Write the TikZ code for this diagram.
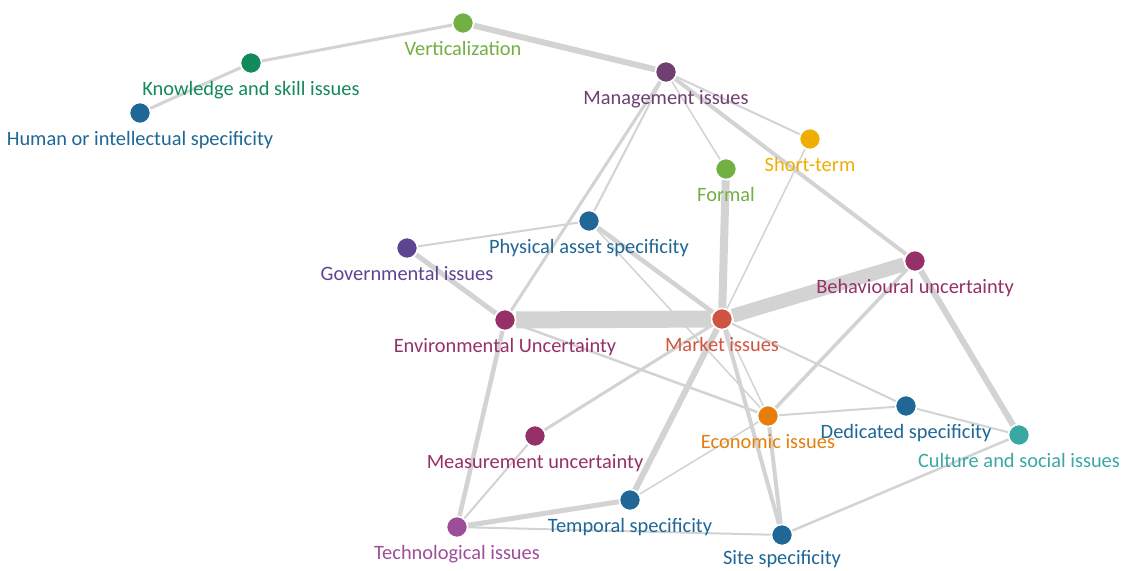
\documentclass[tikz,border=0pt]{standalone}
\usepackage{fontspec}
\setmainfont{Carlito}
\usepackage{tikz}
\usetikzlibrary{positioning, backgrounds}
\usepackage{xcolor}
\definecolor{cLime}{HTML}{72B043}
\definecolor{cGreen}{HTML}{138A5A}
\definecolor{cBlue}{HTML}{1F6796}
\definecolor{cPlum}{HTML}{6F3F72}
\definecolor{cGold}{HTML}{F0AF00}
\definecolor{cViolet}{HTML}{5D4591}
\definecolor{cBerry}{HTML}{963068}
\definecolor{cRed}{HTML}{CF5540}
\definecolor{cOrange}{HTML}{E57F0B}
\definecolor{cTeal}{HTML}{3AA8A2}
\definecolor{cOrchid}{HTML}{9C4F98}
\definecolor{linkgray}{HTML}{D3D3D3}
\tikzstyle{dot} = [circle, draw=white, line width=1.5pt, minimum size=21pt, inner sep=0pt]
\tikzstyle{lbl} = [font=\fontsize{20.4}{20.4}\selectfont, inner sep=0pt, text height=14pt, text depth=4pt]
\tikzset{edge/.style={draw=linkgray, line width=#1}}

\begin{document}
\begin{tikzpicture}[x=1pt, y=-1pt, node distance=7pt]
    \useasboundingbox (0,0) rectangle (1126,570);

    % Top branch
    \node (vert) [dot, fill=cLime] at (463,23) {};
    \node (vertL) [lbl, text=cLime, below=of vert] {Verticalization};
    \node (know) [dot, fill=cGreen] at (251,63) {};
    \node (knowL) [lbl, text=cGreen, below=of know] {Knowledge and skill issues};
    \node (human) [dot, fill=cBlue] at (140,113) {};
    \node (humanL) [lbl, text=cBlue, below=of human] {Human or intellectual specificity};
    \node (mgmt) [dot, fill=cPlum] at (666,72) {};
    \node (mgmtL) [lbl, text=cPlum, below=of mgmt] {Management issues};
    \node (short) [dot, fill=cGold] at (810,139) {};
    \node (shortL) [lbl, text=cGold, below=of short] {Short-term};
    \node (formal) [dot, fill=cLime] at (726,169) {};
    \node (formalL) [lbl, text=cLime, below=of formal] {Formal};

    % Middle
    \node (phys) [dot, fill=cBlue] at (589,221) {};
    \node (physL) [lbl, text=cBlue, below=of phys] {Physical asset specificity};
    \node (gov) [dot, fill=cViolet] at (407,248) {};
    \node (govL) [lbl, text=cViolet, below=of gov] {Governmental issues};
    \node (behav) [dot, fill=cBerry] at (915,261) {};
    \node (behavL) [lbl, text=cBerry, below=of behav] {Behavioural uncertainty};
    \node (env) [dot, fill=cBerry] at (505,320) {};
    \node (envL) [lbl, text=cBerry, below=of env] {Environmental Uncertainty};
    \node (market) [dot, fill=cRed] at (722,319) {};
    \node (marketL) [lbl, text=cRed, below=of market] {Market issues};

    % Bottom
    \node (econ) [dot, fill=cOrange] at (768,416) {};
    \node (econL) [lbl, text=cOrange, below=of econ] {Economic issues};
    \node (dedic) [dot, fill=cBlue] at (906,406) {};
    \node (dedicL) [lbl, text=cBlue, below=of dedic] {Dedicated specificity};
    \node (culture) [dot, fill=cTeal] at (1019,435) {};
    \node (cultureL) [lbl, text=cTeal, below=of culture] {Culture and social issues};
    \node (meas) [dot, fill=cBerry] at (535,436) {};
    \node (measL) [lbl, text=cBerry, below=of meas] {Measurement uncertainty};
    \node (temporal) [dot, fill=cBlue] at (630,500) {};
    \node (temporalL) [lbl, text=cBlue, below=of temporal] {Temporal specificity};
    \node (tech) [dot, fill=cOrchid] at (457,527) {};
    \node (techL) [lbl, text=cOrchid, below=of tech] {Technological issues};
    \node (site) [dot, fill=cBlue] at (782,535) {};
    \node (siteL) [lbl, text=cBlue, below=4.5pt of site] {Site specificity};

    % Links
    \begin{scope}[on background layer]
        \fill[white] (0,0) rectangle (1126,570);
        \draw [edge=3pt] (human) -- (know);
        \draw [edge=3pt] (know) -- (vert);
        \draw [edge=6pt] (vert) -- (mgmt);
        \draw [edge=2pt] (mgmt) -- (short);
        \draw [edge=1.5pt] (mgmt) -- (formal);
        \draw [edge=4pt] (mgmt) -- (behav);
        \draw [edge=3pt] (mgmt) -- (env);
        \draw [edge=2pt] (mgmt) -- (phys);
        \draw [edge=1.5pt] (short) -- (market);
        \draw [edge=8pt] (formal) -- (market);
        \draw [edge=2pt] (phys) -- (gov);
        \draw [edge=4.5pt] (phys) -- (market);
        \draw [edge=1.5pt] (phys) -- (econ);
        \draw [edge=5pt] (gov) -- (env);
        \draw [edge=17pt] (env) -- (market);
        \draw [edge=14pt] (market) -- (behav);
        \draw [edge=2.5pt] (env) -- (econ);
        \draw [edge=4.5pt] (env) -- (tech);
        \draw [edge=3pt] (market) -- (meas);
        \draw [edge=6pt] (market) -- (temporal);
        \draw [edge=4pt] (market) -- (site);
        \draw [edge=1.5pt] (market) -- (econ);
        \draw [edge=2pt] (market) -- (dedic);
        \draw [edge=3.5pt] (econ) -- (behav);
        \draw [edge=2pt] (econ) -- (dedic);
        \draw [edge=1.5pt] (econ) -- (temporal);
        \draw [edge=4pt] (econ) -- (site);
        \draw [edge=2pt] (dedic) -- (culture);
        \draw [edge=6pt] (behav) -- (culture);
        \draw [edge=2.5pt] (site) -- (culture);
        \draw [edge=5pt] (temporal) -- (tech);
        \draw [edge=2pt] (tech) -- (site);
        \draw [edge=2pt] (meas) -- (tech);
    \end{scope}
\end{tikzpicture}
\end{document}
